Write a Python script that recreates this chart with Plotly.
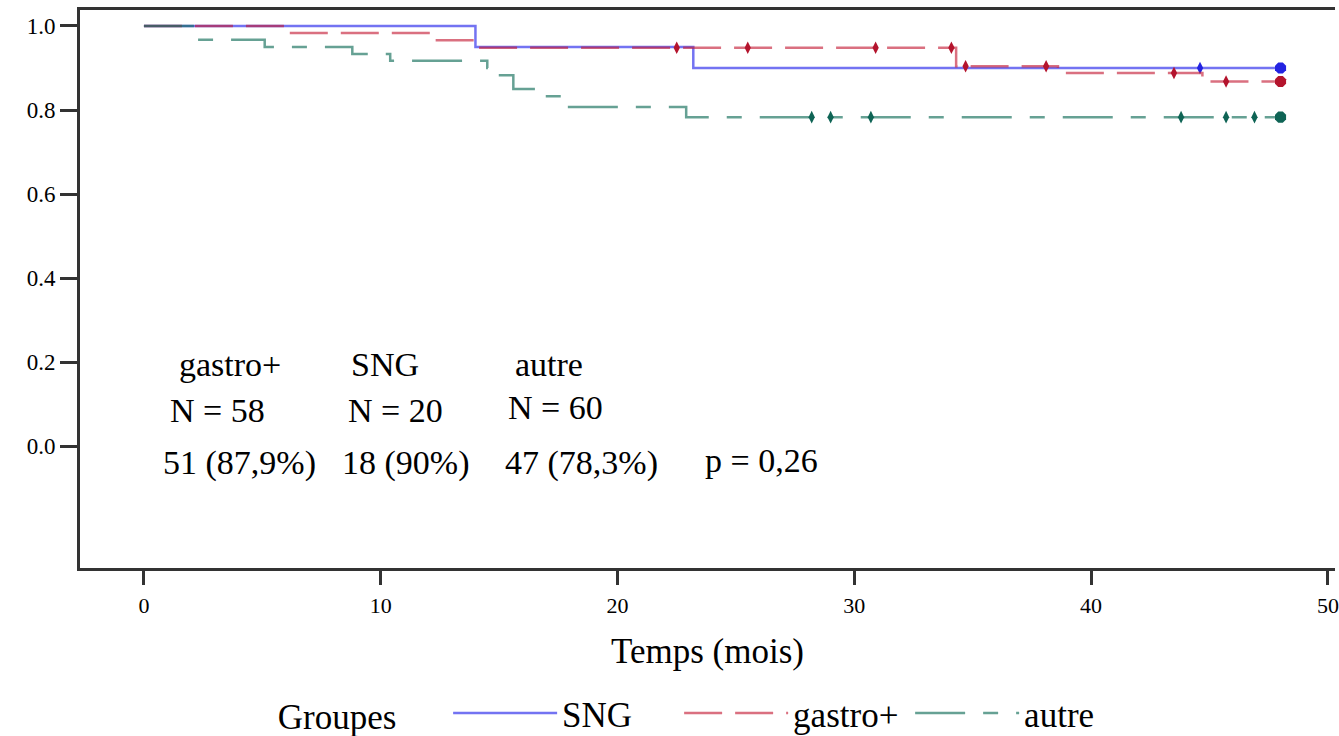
import numpy as np
import plotly.graph_objects as go

# ---------------- data ----------------
groups = ["SNG", "gastro+", "autre"]

sng_times = [0.0, 14.0, 23.2, 48.0]
sng_surv = [1.0, 0.95, 0.90, 0.90]
sng_censor = [44.6]

gastro_times = [0.0, 6.1, 12.2, 14.0, 34.3, 38.6, 44.7, 48.0]
gastro_surv = [1.0, 0.983, 0.966, 0.948, 0.904, 0.888, 0.868, 0.868]
gastro_censor = [22.5, 25.5, 30.9, 34.1, 34.7, 38.1, 43.5, 45.7]

autre_times = [0.0, 2.2, 5.1, 8.8, 10.4, 14.5, 14.8, 15.6, 16.9, 17.9, 22.9, 48.0]
autre_surv = [1.0, 0.967, 0.95, 0.933, 0.917, 0.90, 0.883, 0.85, 0.833, 0.807, 0.783, 0.783]
autre_censor = [28.2, 29.0, 30.7, 43.8, 45.7, 46.9]

x_ticks = [0, 10, 20, 30, 40, 50]
y_ticks = [0.0, 0.2, 0.4, 0.6, 0.8, 1.0]

table_texts = ["gastro+", "N = 58", "51 (87,9%)",
               "SNG", "N = 20", "18 (90%)",
               "autre", "N = 60", "47 (78,3%)",
               "p = 0,26"]
table_x = [3.62, 3.12, 4.04, 10.19, 10.61, 11.03, 17.09, 17.39, 18.48, 26.06]
table_y = [0.195, 0.086, -0.040, 0.195, 0.086, -0.040, 0.195, 0.093, -0.040, -0.033]

# ---------------- style ----------------
FONT = "Liberation Serif"
styles = {
    "SNG": dict(color="rgba(40,40,235,0.65)", dot="rgb(35,35,225)", dash="solid"),
    "gastro+": dict(color="rgba(195,25,50,0.62)", dot="rgb(180,20,45)", dash="38px,13px"),
    "autre": dict(color="rgba(20,110,90,0.65)", dot="rgb(15,100,85)", dash="50px,18px,15px,18px"),
}
series = {
    "SNG": (sng_times, sng_surv, sng_censor),
    "gastro+": (gastro_times, gastro_surv, gastro_censor),
    "autre": (autre_times, autre_surv, autre_censor),
}


def step_value(times, surv, t):
    idx = np.searchsorted(np.asarray(times), t, side="right") - 1
    return float(np.asarray(surv)[idx])


fig = go.Figure()
for g in groups:
    t, s, c = series[g]
    st = styles[g]
    fig.add_trace(go.Scatter(
        x=t, y=s, mode="lines", name=g, line_shape="hv",
        line=dict(color=st["color"], width=2.5, dash=st["dash"]),
        legendgroup=g,
    ))
    fig.add_trace(go.Scatter(
        x=c, y=[step_value(t, s, ci) for ci in c], mode="markers",
        marker=dict(symbol="diamond-tall", size=9, color=st["dot"]),
        showlegend=False, legendgroup=g, hoverinfo="skip",
    ))
    fig.add_trace(go.Scatter(
        x=[t[-1]], y=[s[-1]], mode="markers",
        marker=dict(symbol="octagon", size=12, color=st["dot"]),
        showlegend=False, legendgroup=g, hoverinfo="skip",
    ))

for txt, xx, yy in zip(table_texts, table_x, table_y):
    fig.add_annotation(x=xx, y=yy, xref="x", yref="y", text=txt, showarrow=False,
                       font=dict(family=FONT, size=34, color="black"),
                       xanchor="center", yanchor="middle")

fig.update_layout(
    width=1339, height=736,
    margin=dict(l=80, r=0, t=10, b=168),
    paper_bgcolor="white", plot_bgcolor="white",
    font=dict(family=FONT, color="black"),
    xaxis=dict(range=[-2.7, 50.3], tickvals=x_ticks, ticks="outside", ticklen=14,
               tickwidth=2.5, tickcolor="#333", showline=True, linewidth=3,
               linecolor="#333", mirror=True, showgrid=False, zeroline=False,
               ticklabelstandoff=2, ticklabeloverflow="allow",
               tickfont=dict(family=FONT, size=22, color="black"),
               title=dict(text="Temps (mois)", font=dict(family=FONT, size=35, color="black"),
                          standoff=22)),
    yaxis=dict(range=[-0.29, 1.038], tickvals=y_ticks, tickformat=".1f", ticks="outside",
               ticklen=17, tickwidth=3, tickcolor="#333", showline=True, linewidth=3,
               linecolor="#333", showgrid=False, zeroline=False,
               tickfont=dict(family=FONT, size=23, color="black")),
    legend=dict(orientation="h", x=0.156, xanchor="left",
                yref="container", y=0.031, yanchor="middle",
                title=dict(text="Groupes&#160;&#160;&#160;&#160;&#160;", side="left",
                           font=dict(family=FONT, size=35)),
                font=dict(family=FONT, size=35, color="black"), itemwidth=104,
                entrywidth=112, entrywidthmode="pixels",
                bgcolor="rgba(0,0,0,0)"),
    showlegend=True,
)

fig.write_html("out.html", config={"displayModeBar": False},
               post_script="document.body.style.margin='0';document.body.style.overflow='hidden';")
